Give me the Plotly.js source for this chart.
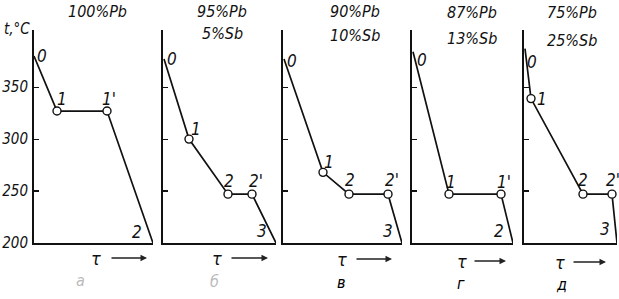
<!DOCTYPE html>
<html><head><meta charset="utf-8">
<script src="https://cdn.plot.ly/plotly-3.0.1.min.js"></script>
<style>html,body{margin:0;padding:0;background:#fff}#c{width:619px;height:299px}</style>
</head><body><div id="c"></div>
<script>
// ---- data ----
const titles = [["100%Pb"], ["95%Pb","5%Sb"], ["90%Pb","10%Sb"], ["87%Pb","13%Sb"], ["75%Pb","25%Sb"]];
const letters = ["а","б","в","г","д"];
const times1 = [0, 2.3, 7.3, 11.9];
const temps1 = [380, 327, 327, 200];
const labels1 = ["0","1","1'","2"];
const times2 = [0.1, 2.6, 6.5, 8.9, 11.3];
const temps2 = [377, 300, 247, 247, 200];
const labels2 = ["0","1","2","2'","3"];
const times3 = [0.1, 4.0, 6.6, 10.5, 11.9];
const temps3 = [377, 268, 247, 247, 200];
const labels3 = ["0","1","2","2'","3"];
const times4 = [0.1, 3.7, 8.9, 10.1];
const temps4 = [384, 247, 247, 200];
const labels4 = ["0","1","1'","2"];
const times5 = [0.1, 0.7, 5.9, 8.8, 9.3];
const temps5 = [387, 339, 247, 247, 200];
const labels5 = ["0","1","2","2'","3"];
const yTicks = [200, 250, 300, 350];
const yTop = 405;

// ---- style / layout ----
const FONT = '"DejaVu Sans Condensed","Liberation Sans Narrow","DejaVu Sans",sans-serif';
const W = 619, H = 299;
const axPx = [[34,153],[163,276],[283,402],[412,513],[524,617]];
const yBot = 243, yTopPx = 30;
const titlePos = [[[97,12]],[[222,12],[222,33]],[[355,12],[355,35]],[[472,13],[472,38]],[[572,13],[572,40]]];
const tauPos = [[96,258,110,147],[217,258,230,268],[342,259,355,392],[462,261,473,506],[560,262,572,606]];
const letterPos = [[80,280,'#bbb'],[214,281,'#bbb'],[341,282,'#000'],[461,283,'#000'],[561,284,'#000']];
// label offsets [xshift, yshift] per point
const offs = [
  [[8,0],[5,12],[2,12],[-16,11]],
  [[8,0],[7,10],[1,13],[4,13],[-14,12]],
  [[8,-2],[6,10],[1,14],[4,14],[-14,12]],
  [[9,-8],[2,12],[3,12],[-14,12]],
  [[7,-13],[11,0],[0,14],[1,14],[-12,14]]
];

const series = [[times1,temps1,labels1],[times2,temps2,labels2],[times3,temps3,labels3],[times4,temps4,labels4],[times5,temps5,labels5]];
const traces = [], annotations = [];
const layout = {width:W, height:H, margin:{l:0,r:0,t:0,b:0}, paper_bgcolor:'#fff', plot_bgcolor:'rgba(0,0,0,0)', showlegend:false, font:{family:FONT, color:'#000'}};
const fy = p => 1 - p / H;
series.forEach((s, i) => {
  const n = i === 0 ? '' : String(i+1);
  const [t, T, lab] = s;
  const xa = 'x'+n, ya = 'y'+n;
  traces.push({x:t, y:T, xaxis:xa, yaxis:ya, mode:'lines', line:{color:'#111', width:1.7}, cliponaxis:false, hoverinfo:'skip'});
  const mx = [], my = [];
  for (let k = 1; k < t.length-1; k++) { mx.push(t[k]); my.push(T[k]); }
  traces.push({x:mx, y:my, xaxis:xa, yaxis:ya, mode:'markers', cliponaxis:false, marker:{symbol:'circle', size:8, color:'#fff', line:{color:'#111', width:1.4}}, hoverinfo:'skip'});
  layout['xaxis'+n] = {domain:[axPx[i][0]/W, axPx[i][1]/W], range:[0, t[t.length-1]], anchor:ya, showline:true, linewidth:2, linecolor:'#111', showgrid:false, zeroline:false, ticks:'', showticklabels:false, fixedrange:true};
  layout['yaxis'+n] = {domain:[fy(yBot), fy(yTopPx)], range:[200, yTop], anchor:xa, showline:true, linewidth:2, linecolor:'#111', showgrid:false, zeroline:false, tickmode:'array', tickvals:yTicks, ticktext:yTicks.map(v => '<i>' + v + '</i>'), ticks:'inside', ticklen:5, tickwidth:1.2, tickcolor:'#111', showticklabels:i===0, tickfont:{family:FONT, size:15, color:'#111'}, ticklabelstandoff:1, fixedrange:true};
  lab.forEach((L, k) => {
    annotations.push({x:t[k], y:T[k], xref:xa, yref:ya, text:L, showarrow:false, xshift:offs[i][k][0], yshift:offs[i][k][1], font:{family:FONT, size:17, style:'italic', color:'#111'}});
  });
  titles[i].forEach((tt, j) => {
    const [px, py] = titlePos[i][j];
    annotations.push({x:px/W, y:fy(py), xref:'paper', yref:'paper', text:tt, showarrow:false, xanchor:'center', yanchor:'middle', font:{family:FONT, size:16, style:'italic', color:'#111'}});
  });
  const [tx, ty, a0, a1] = tauPos[i];
  annotations.push({x:tx/W, y:fy(ty), xref:'paper', yref:'paper', text:'τ', showarrow:false, xanchor:'center', yanchor:'middle', font:{family:FONT, size:18, style:'italic', color:'#111'}});
  annotations.push({x:a1/W, y:fy(ty), xref:'paper', yref:'paper', ax:a0-a1, ay:0, text:'', showarrow:true, arrowhead:2, arrowsize:1, arrowwidth:1.3, arrowcolor:'#222'});
  const [lx, ly, lc] = letterPos[i];
  annotations.push({x:lx/W, y:fy(ly), xref:'paper', yref:'paper', text:letters[i], showarrow:false, xanchor:'center', yanchor:'middle', font:{family:FONT, size:16, style:'italic', color:lc}});
});
annotations.push({x:2/W, y:fy(29), xref:'paper', yref:'paper', text:'t,°C', showarrow:false, xanchor:'left', yanchor:'middle', font:{family:FONT, size:15, style:'italic', color:'#111'}});
layout.annotations = annotations;
Plotly.newPlot('c', traces, layout, {staticPlot:true, displayModeBar:false});
</script></body></html>
